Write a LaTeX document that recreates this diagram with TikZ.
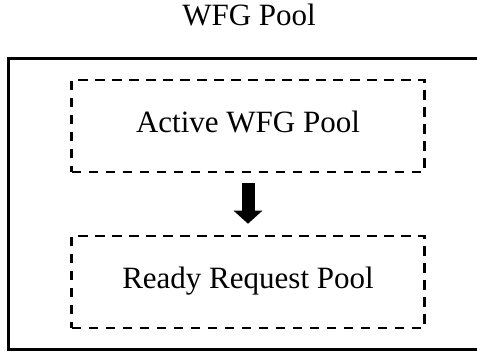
\documentclass[tikz,border=0pt]{standalone}
\usepackage{fontspec}
\setmainfont{Liberation Serif}
\usetikzlibrary{arrows.meta}

\tikzset{
  x=1pt, y=1pt,
  label text/.style={font=\fontsize{31}{36}\selectfont},
  outer pool/.style={draw, line width=3pt, minimum width=481.3pt, minimum height=291.5pt, inner sep=0pt},
  sub pool/.style={draw, line width=2.5pt, dash pattern=on 9.5pt off 7.5pt,
    minimum width=353pt, minimum height=92pt, inner sep=0pt,
    text height=21pt, text depth=7pt, label text},
  flow arrow/.style={line width=13pt, -{Triangle[width=28pt,length=13pt]},
    shorten <=10pt, shorten >=11pt}
}

\begin{document}
\begin{tikzpicture}
  \useasboundingbox (0,0) rectangle (477,-352);
  \clip (0,0) rectangle (477,-352);

  % title of the enclosing pool
  \node[label text, anchor=base] (title) at (249,-26) {WFG Pool};

  % enclosing pool, its right side runs past the page edge
  \node[outer pool] (pool) at (249.35,-204.25) {};

  % the two sub-pools
  \node[sub pool] (active) at (248,-126) {Active WFG Pool};
  \node[sub pool] (ready)  at (248,-282) {Ready Request Pool};

  % promotion from active WFGs to ready requests
  \draw[flow arrow] (active.south) -- (ready.north);
\end{tikzpicture}
\end{document}
